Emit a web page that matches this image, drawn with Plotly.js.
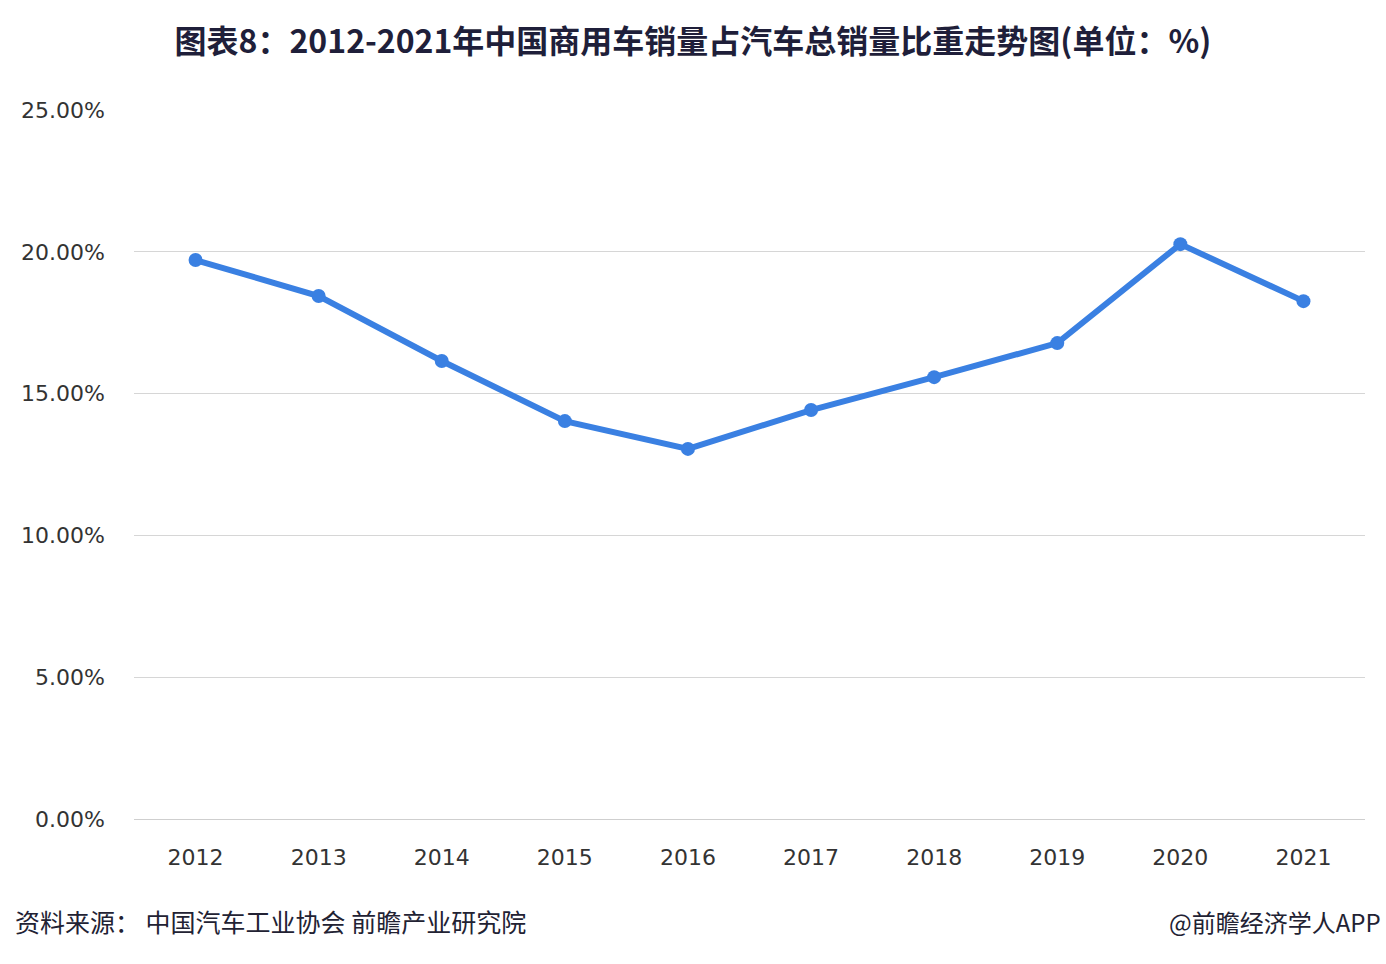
<!DOCTYPE html>
<html>
<head>
<meta charset="utf-8">
<script src="https://cdn.plot.ly/plotly-3.0.1.min.js"></script>
<style>html,body{margin:0;padding:0;background:#fff;}#chart{width:1386px;height:964px;}</style>
</head>
<body>
<div id="chart"></div>
<script>
const years = ['2012','2013','2014','2015','2016','2017','2018','2019','2020','2021'];
const shares = [19.71, 18.44, 16.15, 14.03, 13.05, 14.42, 15.58, 16.78, 20.27, 18.26];
const yTicks = [0, 5, 10, 15, 20, 25];
const yTickLabels = ['0.00%', '5.00%', '10.00%', '15.00%', '20.00%', '25.00%'];

const trace = {
  x: years,
  y: shares,
  type: 'scatter',
  mode: 'lines+markers',
  line: {color: '#3a80e2', width: 6},
  marker: {color: '#3a80e2', size: 14},
  hoverinfo: 'x+y'
};

const layout = {
  width: 1386, height: 964,
  paper_bgcolor: '#ffffff', plot_bgcolor: '#ffffff',
  margin: {l: 134, r: 21, t: 110, b: 145},
  showlegend: false,
  font: {family: '"Noto Sans CJK SC", "Noto Sans", sans-serif', color: '#333333'},
  title: {
    text: '<b>图表8：2012-2021年中国商用车销量占汽车总销量比重走势图(单位：%)</b>',
    x: 0.5, xref: 'container', xanchor: 'center',
    y: 0.957, yref: 'container', yanchor: 'middle',
    font: {size: 32, color: '#1f1f3a', family: '"Noto Sans CJK SC", sans-serif'}
  },
  xaxis: {
    type: 'category',
    range: [-0.5, 9.5],
    showgrid: false, zeroline: false,
    showline: false,
    ticks: '',
    tickfont: {size: 22, color: '#333333', family: '"DejaVu Sans", "Noto Sans", sans-serif'},
    ticklabelstandoff: 23
  },
  yaxis: {
    range: [0, 25],
    tickvals: yTicks,
    ticktext: yTickLabels,
    showgrid: true, gridcolor: '#d6d6d6', gridwidth: 1,
    zeroline: true, zerolinecolor: '#cfcfcf', zerolinewidth: 1,
    showline: false, ticks: '',
    tickfont: {size: 22, color: '#333333', family: '"DejaVu Sans", "Noto Sans", sans-serif'},
    ticklabelstandoff: 28
  },
  annotations: [
    {
      text: '资料来源： 中国汽车工业协会 前瞻产业研究院',
      xref: 'paper', yref: 'paper', x: -0.098, y: -0.144,
      xanchor: 'left', yanchor: 'middle', showarrow: false,
      font: {size: 25, color: '#222233', family: '"Noto Sans CJK SC", sans-serif'}
    },
    {
      text: '@前瞻经济学人APP',
      xref: 'paper', yref: 'paper', x: 1.0145, y: -0.144,
      xanchor: 'right', yanchor: 'middle', showarrow: false,
      font: {size: 24, color: '#222233', family: '"Noto Sans CJK SC", sans-serif'}
    }
  ]
};

Plotly.newPlot('chart', [trace], layout, {displayModeBar: false, staticPlot: true});
</script>
</body>
</html>
